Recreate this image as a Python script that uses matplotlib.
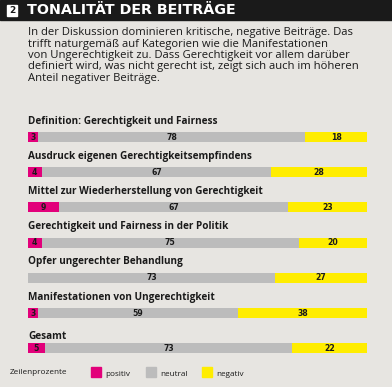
import matplotlib.pyplot as plt
import numpy as np

# data
categories = ["Definition: Gerechtigkeit und Fairness",
              "Ausdruck eigenen Gerechtigkeitsempfindens",
              "Mittel zur Wiederherstellung von Gerechtigkeit",
              "Gerechtigkeit und Fairness in der Politik",
              "Opfer ungerechter Behandlung",
              "Manifestationen von Ungerechtigkeit",
              "Gesamt"]
positiv = [3, 4, 9, 4, 0, 3, 5]
neutral = [78, 67, 67, 75, 73, 59, 73]
negativ = [18, 28, 23, 20, 27, 38, 22]
series_names = ["positiv", "neutral", "negativ"]

title = "TONALITÄT DER BEITRÄGE"
intro = ("In der Diskussion dominieren kritische, negative Beiträge. Das\n"
         "trifft naturgemäß auf Kategorien wie die Manifestationen\n"
         "von Ungerechtigkeit zu. Dass Gerechtigkeit vor allem darüber\n"
         "definiert wird, was nicht gerecht ist, zeigt sich auch im höheren\n"
         "Anteil negativer Beiträge.")

BG = "#e7e5e1"
colors = ["#e2007a", "#bcbcbc", "#ffed00"]

W, H = 392, 387
fig = plt.figure(figsize=(W / 100, H / 100), dpi=100, facecolor=BG)

# full-figure axes in pixel units for header / text
bg = fig.add_axes([0, 0, 1, 1])
bg.set_xlim(0, W)
bg.set_ylim(H, 0)
bg.axis("off")
bg.add_patch(plt.Rectangle((0, 0), W, 19.5, color="#1a1a1a", zorder=1))
bg.add_patch(plt.Rectangle((7, 5), 10.5, 10.5, color="white", zorder=2))
bg.text(12.25, 10.5, "2", color="#1a1a1a", fontsize=6.5, fontweight="bold",
        ha="center", va="center", zorder=3)
bg.text(27.5, 10.5, title, color="white", fontsize=10.3, fontweight="heavy",
        family="DejaVu Sans", ha="left", va="center", zorder=3)
bg.text(28, 27.5, intro, color="#1a1a1a", fontsize=8.1, family="Open Sans",
        ha="left", va="top", linespacing=1.04)

# bar axes
top_px, row_h, n = 119.4, 35.2, len(categories)
left_px, right_px = 28, 367
ax = fig.add_axes([left_px / W, 1 - (top_px + n * row_h) / H,
                   (right_px - left_px) / W, n * row_h / H])
ax.set_facecolor("none")
ax.set_xlim(0, 1)
ax.set_ylim(n - 0.5, -0.5)
ax.axis("off")

vals = np.array([positiv, neutral, negativ], dtype=float)
totals = vals.sum(axis=0)
y = np.arange(n)
bh = 10 / row_h
left = np.zeros(n)
for k in range(3):
    w = vals[k] / totals
    ax.barh(y, w, left=left, height=bh, color=colors[k], linewidth=0)
    for i in range(n):
        if vals[k][i] > 0:
            ax.text(left[i] + w[i] / 2, y[i], "%d" % vals[k][i], ha="center",
                    va="center", fontsize=5.6, fontweight="bold",
                    family="DejaVu Sans", color="#1a1a1a")
    left += w

for i, cat in enumerate(categories):
    off = 0.34 if i == n - 1 else 0.45
    ax.text(0, y[i] - off, cat, ha="left", va="center", fontsize=7.2,
            fontweight="bold", family="Open Sans", color="#1a1a1a")

# legend
ly = 373
bg.text(10, ly, "Zeilenprozente", fontsize=5.9, family="Open Sans",
        ha="left", va="center", color="#1a1a1a")
for xb, name, c in zip([91, 146, 202], series_names, colors):
    bg.add_patch(plt.Rectangle((xb, ly - 6), 10, 10, color=c))
    bg.text(xb + 14, ly + 1, name, fontsize=5.9, family="Open Sans",
            ha="left", va="center", color="#1a1a1a")

fig.savefig("out.png", dpi=100, facecolor=BG)
